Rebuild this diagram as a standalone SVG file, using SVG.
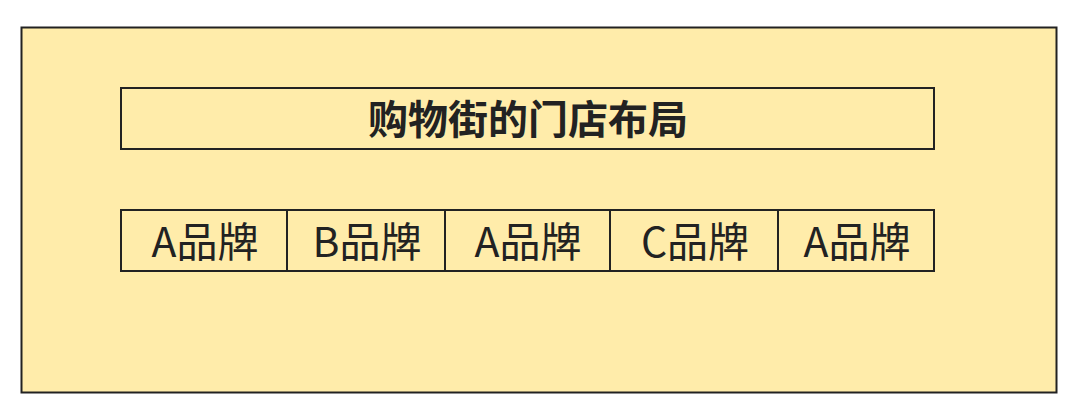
<svg xmlns="http://www.w3.org/2000/svg" width="1080" height="415" viewBox="0 0 1080 415">
<style>
.box{fill:#FFECAA;stroke:#222;stroke-width:2}
.t{font-family:"Noto Sans CJK SC","Noto Sans",sans-serif;fill:#222;text-anchor:middle;dominant-baseline:central}
.title{font-size:40px;font-weight:bold}
.cell{font-size:41px;font-weight:normal}
</style>
<rect width="1080" height="415" fill="#fff"/>
<g id="street">
<rect class="box" x="21.5" y="27.5" width="1035" height="365"/>
</g>
<g id="title">
<rect class="box" x="121" y="88" width="813" height="61"/>
<text class="t title" x="528" y="117">购物街的门店布局</text>
</g>
<g id="shop1">
<rect class="box" x="121" y="210" width="166" height="61"/>
<text class="t cell" x="205" y="239">A品牌</text>
</g>
<g id="shop2">
<rect class="box" x="287" y="210" width="158" height="61"/>
<text class="t cell" x="367" y="239">B品牌</text>
</g>
<g id="shop3">
<rect class="box" x="445" y="210" width="165" height="61"/>
<text class="t cell" x="528" y="239">A品牌</text>
</g>
<g id="shop4">
<rect class="box" x="610" y="210" width="168" height="61"/>
<text class="t cell" x="695" y="239">C品牌</text>
</g>
<g id="shop5">
<rect class="box" x="778" y="210" width="156" height="61"/>
<text class="t cell" x="857" y="239">A品牌</text>
</g>
<g id="connectors"></g>
</svg>
